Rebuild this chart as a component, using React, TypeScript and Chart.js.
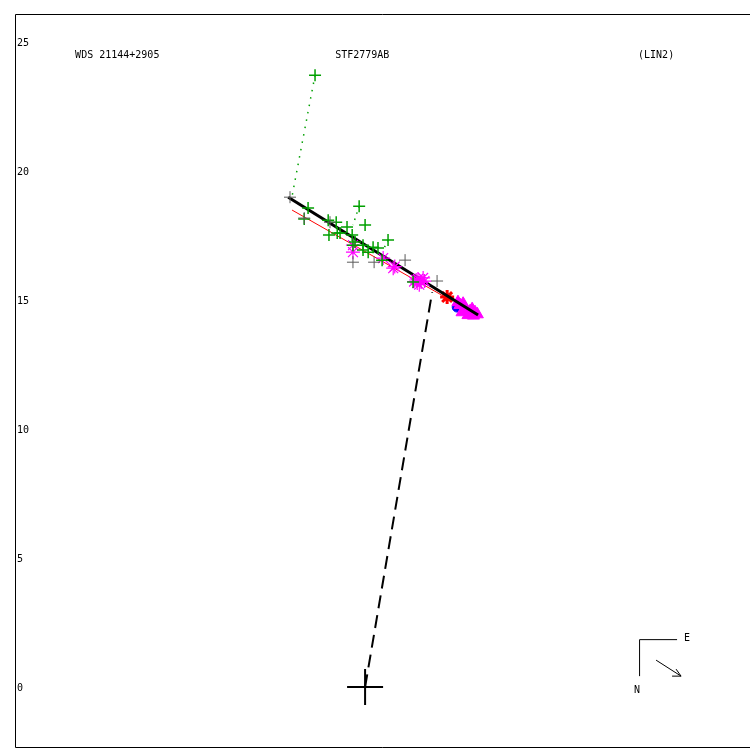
import React, { useEffect, useRef } from "react";
import { Chart, registerables } from "chart.js";
Chart.register(...registerables);

// ---- data (arcsec, x = offset, y = offset) ----
const xRange = [-13.57, 14.92];
const yRange = [-2.36, 26.09];
const yTickValues = [0, 5, 10, 15, 20, 25];
const titleLeft = "WDS 21144+2905";
const titleMid = "STF2779AB";
const titleRight = "(LIN2)";

const greenX = [-2.21, -0.23, -1.43, -1.12, -0.70, 0.0, -1.40, -0.97, -0.50, -0.39, -0.08, 0.31, 0.12, 0.89, 0.50, -0.08, -1.94, 1.86, -2.36, -1.08, -0.47, 0.66];
const greenY = [18.57, 18.64, 18.10, 18.02, 17.83, 17.91, 17.52, 17.60, 17.52, 17.25, 17.13, 17.05, 16.86, 17.33, 17.02, 16.94, 23.72, 15.70, 18.14, 17.60, 17.13, 16.55];

const greyX = [-2.91, -2.36, -1.36, -0.47, 1.55, 2.79, 0.35];
const greyY = [18.99, 18.18, 18.02, 16.47, 16.55, 15.74, 16.47];

const magentaStarX = [-0.47, -0.47, 0.70, 1.09, 2.05, 2.17, 2.25, 2.02, 1.98, 2.10, 1.90, 2.30, 1.15];
const magentaStarY = [17.13, 16.86, 16.63, 16.24, 15.82, 15.70, 15.86, 15.66, 15.78, 15.60, 15.72, 15.74, 16.30];

const magentaTriX = [3.68, 3.88, 4.07, 4.26, 3.76, 3.99, 4.15, 3.60, 4.35, 3.80, 4.20];
const magentaTriY = [14.81, 14.69, 14.57, 14.53, 14.53, 14.42, 14.65, 14.92, 14.45, 14.86, 14.40];

const redStarX = [3.18];
const redStarY = [15.12];
const blueX = [3.57];
const blueY = [14.73];

const orbitX = [-2.98, 4.38];
const orbitY = [18.99, 14.42];
const redLineX = [-2.83, 3.10];
const redLineY = [18.49, 15.12];
const nodeX = [0, 2.6];
const nodeY = [0, 15.31];
const residualsA = { x: [-1.94, -2.83], y: [23.72, 19.03] };
const residualsB = { x: [-0.23, -0.47], y: [18.64, 17.91] };
const residualsC = { x: [0.89, 0.70], y: [17.33, 16.94] };
const originX = [0];
const originY = [0];

// compass (data units)
const compassCorner = { x: 10.62, y: 1.86 };

const pts = (xs: number[], ys: number[]) => xs.map((x, i) => ({ x, y: ys[i] }));

const GREEN = "rgb(0,160,0)";
const MONO = "10px 'DejaVu Sans Mono', 'Liberation Mono', monospace";

const decoPlugin = {
  id: "deco",
  afterDraw(chart: any) {
    const { ctx, chartArea, scales } = chart;
    const xs = scales.x;
    const ys = scales.y;
    ctx.save();
    ctx.strokeStyle = "#000";
    ctx.lineWidth = 1;
    ctx.beginPath();
    ctx.moveTo(chartArea.right, chartArea.top + 0.5);
    ctx.lineTo(chartArea.left + 0.5, chartArea.top + 0.5);
    ctx.lineTo(chartArea.left + 0.5, chartArea.bottom - 0.5);
    ctx.lineTo(chartArea.right, chartArea.bottom - 0.5);
    ctx.stroke();

    ctx.fillStyle = "#000";
    ctx.font = MONO;
    ctx.textBaseline = "middle";
    ctx.textAlign = "left";
    yTickValues.forEach((v) => {
      ctx.fillText(String(v), chartArea.left + 2, ys.getPixelForValue(v) + 1);
    });
    const ty = ys.getPixelForValue(24.5);
    ctx.fillText(titleLeft, xs.getPixelForValue(-11.24), ty);
    ctx.fillText(titleMid, xs.getPixelForValue(-1.16), ty);
    ctx.fillText(titleRight, xs.getPixelForValue(10.58), ty);

    // compass
    const cx = xs.getPixelForValue(compassCorner.x);
    const cy = ys.getPixelForValue(compassCorner.y);
    ctx.beginPath();
    ctx.moveTo(cx + 38, cy + 0.5);
    ctx.lineTo(cx + 0.5, cy + 0.5);
    ctx.lineTo(cx + 0.5, cy + 37);
    ctx.stroke();
    ctx.fillText("E", cx + 45, cy - 1);
    ctx.fillText("N", cx - 5, cy + 51);
    ctx.beginPath();
    ctx.moveTo(cx + 17, cy + 21);
    ctx.lineTo(cx + 42, cy + 37);
    ctx.moveTo(cx + 42, cy + 37);
    ctx.lineTo(cx + 33, cy + 37);
    ctx.moveTo(cx + 42, cy + 37);
    ctx.lineTo(cx + 37, cy + 30);
    ctx.stroke();
    ctx.restore();
  },
};

export default function App() {
  const ref = useRef<HTMLCanvasElement>(null);
  useEffect(() => {
    if (!ref.current) return;
    const chart = new Chart(ref.current, {
      type: "scatter",
      data: {
        datasets: [
          { data: pts(residualsA.x, residualsA.y), showLine: true, borderColor: GREEN, borderWidth: 1.5, borderDash: [1.5, 6], pointRadius: 0 },
          { data: pts(residualsB.x, residualsB.y), showLine: true, borderColor: GREEN, borderWidth: 1.5, borderDash: [1.5, 5], pointRadius: 0 },
          { data: pts(residualsC.x, residualsC.y), showLine: true, borderColor: GREEN, borderWidth: 1.5, borderDash: [1.5, 5], pointRadius: 0 },
          { data: pts(nodeX, nodeY), showLine: true, borderColor: "#000", borderWidth: 2, borderDash: [13, 7], pointRadius: 0 },
          { data: pts(greyX, greyY), pointStyle: "cross", pointRadius: 6, borderColor: "rgb(90,90,90)", borderWidth: 1 },
          { data: pts(greenX, greenY), pointStyle: "cross", pointRadius: 6, borderColor: GREEN, borderWidth: 1.5 },
          { data: pts(magentaStarX, magentaStarY), pointStyle: "star", pointRadius: 7, borderColor: "rgb(255,0,255)", borderWidth: 1.2 },
          { data: pts(redLineX, redLineY), showLine: true, borderColor: "rgb(255,0,0)", borderWidth: 1, pointRadius: 0 },
          { data: pts(orbitX, orbitY), showLine: true, borderColor: "#000", borderWidth: 3, pointRadius: 0 },
          { data: pts(magentaTriX, magentaTriY), pointStyle: "triangle", pointRadius: 7, backgroundColor: "rgb(255,0,255)", borderColor: "rgb(255,0,255)", borderWidth: 1 },
          { data: pts(redStarX, redStarY), pointStyle: "star", pointRadius: 7, borderColor: "rgb(255,0,0)", borderWidth: 3 },
          { data: pts(blueX, blueY), pointStyle: "circle", pointRadius: 5, backgroundColor: "rgb(0,0,255)", borderColor: "rgb(0,0,255)", borderWidth: 1 },
          { data: pts(originX, originY), pointStyle: "cross", pointRadius: 18, borderColor: "#000", borderWidth: 2 },
        ],
      },
      options: {
        animation: false,
        responsive: false,
        layout: { autoPadding: false, padding: { left: 15, top: 14, right: 0, bottom: 2 } },
        plugins: { legend: { display: false }, tooltip: { enabled: false }, title: { display: false } },
        scales: {
          x: { type: "linear", min: xRange[0], max: xRange[1], display: false },
          y: { type: "linear", min: yRange[0], max: yRange[1], display: false },
        },
      },
      plugins: [decoPlugin],
    });
    return () => chart.destroy();
  }, []);
  return (
    <div style={{ position: "fixed", left: 0, top: 0, width: 750, height: 750, background: "#fff" }}>
      <canvas ref={ref} width={750} height={750} />
    </div>
  );
}
